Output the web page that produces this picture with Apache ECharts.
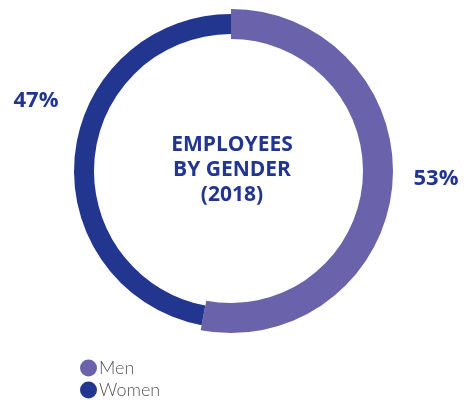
<!DOCTYPE html>
<html><head><meta charset="utf-8">
<script src="https://cdn.jsdelivr.net/npm/echarts@6/dist/echarts.min.js"></script>
<style>html,body{margin:0;padding:0;background:#fff}#c{width:468px;height:403px}</style>
</head><body><div id="c"></div>
<script>
const categories = ['Men', 'Women'];
const values = [53, 47];
const colors = ['#6a62aa', '#22358f'];
const titleLines = ['EMPLOYEES', 'BY GENDER', '(2018)'];

const chart = echarts.init(document.getElementById('c'), null, {renderer: 'canvas'});
const navy = '#22358f';
const boldFont = '"Open Sans", Lato, sans-serif';
const lightFont = 'Lato, "Open Sans", sans-serif';

function ringData(showIdx) {
  return categories.map((c, i) => ({
    name: c, value: values[i],
    itemStyle: {color: i === showIdx ? colors[i] : 'rgba(0,0,0,0)'}
  }));
}

const option = {
  animation: false,
  legend: {
    orient: 'vertical', left: 80, top: 359, padding: 0,
    icon: 'circle', itemWidth: 17, itemHeight: 17, itemGap: 4,
    selectedMode: false,
    textStyle: {color: '#555', fontSize: 18, fontWeight: 300, fontFamily: lightFont, padding: [0,0,0,-3]},
    data: categories.map((c, i) => ({name: c, itemStyle: {color: colors[i]}}))
  },
  graphic: [
    {type: 'text', x: 232, y: 170, silent: true,
      style: {text: titleLines.join('\n'), fill: navy, font: 'bold 21px ' + boldFont,
        align: 'center', verticalAlign: 'middle', lineHeight: 25}},
    {type: 'text', x: 36, y: 101, silent: true,
      style: {text: values[1] + '%', fill: navy, font: 'bold 22px ' + boldFont, align: 'center', verticalAlign: 'middle'}},
    {type: 'text', x: 436, y: 179, silent: true,
      style: {text: values[0] + '%', fill: navy, font: 'bold 22px ' + boldFont, align: 'center', verticalAlign: 'middle'}}
  ],
  series: [
    {type: 'pie', name: 'men', center: [231, 171], radius: [132, 162], startAngle: 90,
      label: {show: false}, labelLine: {show: false}, silent: true, data: ringData(0)},
    {type: 'pie', name: 'women', center: [231, 171], radius: [137, 157], startAngle: 90,
      label: {show: false}, labelLine: {show: false}, silent: true, data: ringData(1)}
  ]
};
chart.setOption(option);
</script></body></html>
